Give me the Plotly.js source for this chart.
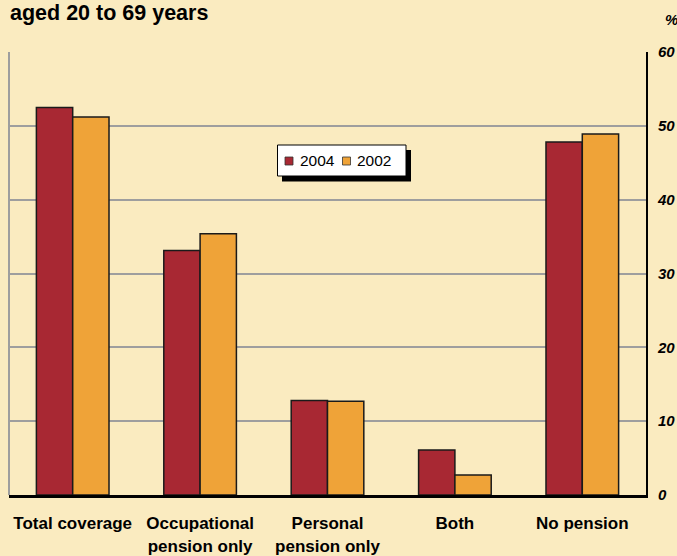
<!DOCTYPE html>
<html>
<head>
<meta charset="utf-8">
<script src="https://cdn.plot.ly/plotly-3.0.1.min.js"></script>
<style>
  html, body { margin: 0; padding: 0; background: #FAEBC0; }
  #chart { width: 677px; height: 556px; }
</style>
</head>
<body>
<div id="chart"></div>
<script>
const categories = ["Total coverage", "Occupational<br>pension only", "Personal<br>pension only", "Both", "No pension"];
const values2004 = [52.5, 33.1, 12.8, 6.1, 47.8];
const values2002 = [51.2, 35.4, 12.7, 2.7, 48.9];
const seriesNames = ["2004", "2002"];
const yTicks = [0, 10, 20, 30, 40, 50, 60];

const bg = "#FAEBC0";
const FONT = "Liberation Sans, Arial, sans-serif";
const colors = ["#A82833", "#EFA338"];

const traces = [
  {
    type: "bar", name: seriesNames[0], x: categories, y: values2004,
    marker: { color: colors[0], line: { color: "#1a1a1a", width: 1.5 } },
    hoverinfo: "x+y", showlegend: false
  },
  {
    type: "bar", name: seriesNames[1], x: categories, y: values2002,
    marker: { color: colors[1], line: { color: "#1a1a1a", width: 1.5 } },
    hoverinfo: "x+y", showlegend: false
  }
];

// plot area: x 9..646, y 52..495
const L = 9, R = 646, T = 52, B = 495;
const px = v => (v - L) / (R - L);
const py = v => (B - v) / (B - T);

// custom legend (box with drop shadow)
const legendShapes = [
  { type: "rect", xref: "paper", yref: "paper",
    x0: px(282), x1: px(411), y0: py(181.5), y1: py(150),
    fillcolor: "#000", line: { width: 0 }, layer: "above" },
  { type: "rect", xref: "paper", yref: "paper",
    x0: px(277.5), x1: px(406), y0: py(176), y1: py(145),
    fillcolor: "#FFFFFF", line: { color: "#000", width: 1 }, layer: "above" }
];
const legendItems = [
  { sq: 285, tx: 297.5 },
  { sq: 342.5, tx: 355.5 }
];
const legendAnn = [];
legendItems.forEach((it, i) => {
  legendShapes.push({
    type: "rect", xref: "paper", yref: "paper",
    x0: px(it.sq), x1: px(it.sq + 8), y0: py(165), y1: py(157),
    fillcolor: colors[i], line: { color: "#333", width: 0.8 }, layer: "above"
  });
  legendAnn.push({
    text: seriesNames[i], xref: "paper", yref: "paper",
    x: px(it.tx), y: py(160.5), xanchor: "left", yanchor: "middle",
    showarrow: false, font: { family: FONT, size: 15.5, color: "#000" }
  });
});

const layout = {
  width: 677, height: 556,
  paper_bgcolor: bg, plot_bgcolor: bg,
  margin: { l: L, r: 677 - R, t: T, b: 556 - B, pad: 0 },
  font: { family: FONT, color: "#000" },
  title: {
    text: "<b>aged 20 to 69 years</b>",
    font: { family: FONT, size: 21.5, color: "#000" },
    xref: "container", yref: "container",
    x: 10 / 677, xanchor: "left",
    y: 1 - 12 / 556, yanchor: "middle"
  },
  barmode: "group",
  bargap: 0.43,
  bargroupgap: 0,
  showlegend: false,
  xaxis: {
    type: "category",
    showline: true, linecolor: "#000", linewidth: 3,
    ticks: "", showgrid: false, zeroline: false,
    tickfont: { family: FONT, size: 17, color: "#000" },
    tickvals: categories,
    ticktext: categories.map(c => c.split("<br>").map(s => "<b>" + s + "</b>").join("<br>")),
    ticklabelstandoff: 11,
    fixedrange: true
  },
  yaxis: {
    side: "right",
    range: [0, 60],
    tickvals: yTicks,
    ticktext: yTicks.map(v => "<b><i>" + v + "</i></b>"),
    showgrid: true, gridcolor: "#9E9E9E", gridwidth: 2,
    showline: true, linecolor: "#000", linewidth: 2,
    zeroline: false, ticks: "",
    tickfont: { family: FONT, size: 15, color: "#000" },
    ticklabelstandoff: 7,
    fixedrange: true
  },
  shapes: [
    { type: "line", xref: "paper", yref: "paper", x0: 0, x1: 0, y0: 0, y1: 1,
      line: { color: "#9E9E9E", width: 2 }, layer: "below" }
  ].concat(legendShapes),
  annotations: [
    { text: "<b><i>%</i></b>", xref: "paper", yref: "paper", x: px(663), y: py(20),
      xanchor: "left", yanchor: "middle", showarrow: false,
      font: { family: FONT, size: 15, color: "#000" } }
  ].concat(legendAnn)
};

Plotly.newPlot("chart", traces, layout, { displayModeBar: false, staticPlot: true });
</script>
</body>
</html>
